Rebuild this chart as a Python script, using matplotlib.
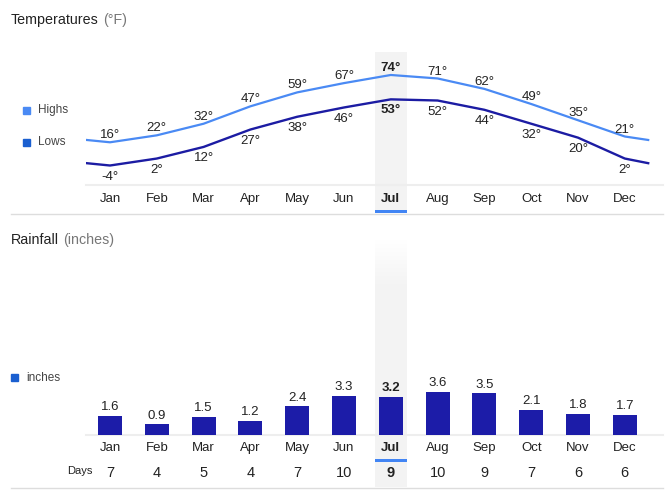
import matplotlib
matplotlib.use("Agg")
import matplotlib.pyplot as plt
from matplotlib.patches import Rectangle
from matplotlib.lines import Line2D
from matplotlib.transforms import blended_transform_factory

plt.rcParams['font.family'] = ['Liberation Sans', 'DejaVu Sans']

months = ["Jan", "Feb", "Mar", "Apr", "May", "Jun",
          "Jul", "Aug", "Sep", "Oct", "Nov", "Dec"]
highs = [16, 22, 32, 47, 59, 67, 74, 71, 62, 49, 35, 21]
lows = [-4, 2, 12, 27, 38, 46, 53, 52, 44, 32, 20, 2]
# line ends drawn past Jan / Dec
highs_edge = [18, 18]
lows_edge = [-2, -2]
rain = [1.6, 0.9, 1.5, 1.2, 2.4, 3.3, 3.2, 3.6, 3.5, 2.1, 1.8, 1.7]
days = [7, 4, 5, 4, 7, 10, 9, 10, 9, 7, 6, 6]
current = 6  # Jul

W, H = 672, 495
fig = plt.figure(figsize=(W / 100, H / 100), dpi=100)

def fx(px):
    return px / W

def fy(py):
    return 1 - py / H

TXT = "#222222"
GRAY = "#777777"
HIGH_C = "#4a8af4"
LOW_C = "#1c1ca3"
BAR_C = "#1c1ca8"
SEL_C = "#4285f4"
HL_C = "#f3f3f3"

step = 46.8
x0 = 110
left_px, right_px = 86, 663
xlim = (-(x0 - left_px) / step, (right_px - x0) / step)
hw = 0.342  # half width of the highlighted column

# ---------- temperatures ----------
ax1 = fig.add_axes([fx(left_px), fy(185), fx(right_px) - fx(left_px), fy(52) - fy(185)])
ax1.set_xlim(*xlim)
ax1.set_ylim(-20.8, 93.8)
ax1.patch.set_alpha(0)
blend1 = blended_transform_factory(ax1.transData, fig.transFigure)
ax1.add_patch(Rectangle((current - hw, fy(213)), 2 * hw, fy(52) - fy(213),
                        transform=blend1, color=HL_C, zorder=0, clip_on=False, lw=0))
ax1.add_patch(Rectangle((current - hw, fy(213)), 2 * hw, 3 / H,
                        transform=blend1, color=SEL_C, zorder=1, clip_on=False, lw=0))

xs = list(range(12))
ax1.plot([-0.5] + xs + [11.5], [highs_edge[0]] + highs + [highs_edge[1]],
         color=HIGH_C, lw=1.6, solid_joinstyle='round', zorder=3)
ax1.plot([-0.5] + xs + [11.5], [lows_edge[0]] + lows + [lows_edge[1]],
         color=LOW_C, lw=1.7, solid_joinstyle='round', zorder=3)
for i in xs:
    w = 'bold' if i == current else 'normal'
    ax1.annotate(f"{highs[i]}°", (i, highs[i]), xytext=(0, 5), textcoords='offset points',
                 ha='center', va='center', fontsize=9.5, color=TXT, fontweight=w)
    ax1.annotate(f"{lows[i]}°", (i, lows[i]), xytext=(0, -8), textcoords='offset points',
                 ha='center', va='center', fontsize=9.5, color=TXT, fontweight=w)

ax1.set_xticks(xs)
ax1.set_xticklabels(months, fontsize=9.5, color=TXT)
ax1.get_xticklabels()[current].set_fontweight('bold')
ax1.tick_params(axis='x', length=0, pad=5.5)
ax1.set_yticks([])
for s in ['top', 'left', 'right']:
    ax1.spines[s].set_visible(False)
ax1.spines['bottom'].set_color('#eeeeee')
ax1.spines['bottom'].set_linewidth(1.5)

t1 = fig.text(fx(11), fy(20), "Temperatures", fontsize=10.3, color=TXT, va='center')
ax1.annotate("(°F)", xy=(1, 0), xycoords=t1, xytext=(3, 0), textcoords='offset points',
             fontsize=10.3, color=GRAY, va='bottom', ha='left', annotation_clip=False)

fig.patches.append(Rectangle((fx(23), fy(114)), 7 / W, 7 / H, transform=fig.transFigure, color=HIGH_C))
fig.text(fx(38), fy(110), "Highs", fontsize=8.5, color="#444444", va='center')
fig.patches.append(Rectangle((fx(23), fy(146)), 7 / W, 7 / H, transform=fig.transFigure, color="#1a5fd0"))
fig.text(fx(38), fy(142), "Lows", fontsize=8.5, color="#444444", va='center')

fig.lines.append(Line2D([fx(11), fx(663)], [fy(213.5), fy(213.5)], transform=fig.transFigure,
                        color='#dddddd', lw=1))

# ---------- rainfall ----------
ax2 = fig.add_axes([fx(left_px), fy(435), fx(right_px) - fx(left_px), fy(250) - fy(435)])
ax2.set_xlim(*xlim)
ax2.set_ylim(0, 15.55)
ax2.patch.set_alpha(0)
blend2 = blended_transform_factory(ax2.transData, fig.transFigure)
# highlight column with a soft top
ax2.add_patch(Rectangle((current - hw, fy(487)), 2 * hw, fy(290) - fy(487),
                        transform=blend2, color=HL_C, zorder=0, clip_on=False, lw=0))
n = 25
for k in range(n):
    top = 240 + k * 2
    ax2.add_patch(Rectangle((current - hw, fy(top + 2)), 2 * hw, 2 / H,
                            transform=blend2, color=HL_C, alpha=(k + 1) / n,
                            zorder=0, lw=0, clip_on=False))
ax2.add_patch(Rectangle((current - hw, fy(462)), 2 * hw, 3 / H,
                        transform=blend2, color=SEL_C, zorder=1, clip_on=False, lw=0))

ax2.bar(xs, rain, width=0.51, color=BAR_C, zorder=3)
for i in xs:
    w = 'bold' if i == current else 'normal'
    ax2.annotate(f"{rain[i]}", (i, rain[i]), xytext=(0, 6.3), textcoords='offset points',
                 ha='center', va='center', fontsize=9.5, color=TXT, fontweight=w)
ax2.set_xticks(xs)
ax2.set_xticklabels(months, fontsize=9.5, color=TXT)
ax2.get_xticklabels()[current].set_fontweight('bold')
ax2.tick_params(axis='x', length=0, pad=5)
ax2.set_yticks([])
for s in ['top', 'left', 'right']:
    ax2.spines[s].set_visible(False)
ax2.spines['bottom'].set_color('#eeeeee')
ax2.spines['bottom'].set_linewidth(1.5)

for i in xs:
    w = 'bold' if i == current else 'normal'
    fig.text(i, fy(473), str(days[i]), transform=blend2, ha='center', va='center',
             fontsize=10.5, color=TXT, fontweight=w)
fig.text(fx(92), fy(471), "Days", fontsize=8, color=TXT, ha='right', va='center')

t2 = fig.text(fx(11), fy(240), "Rainfall", fontsize=10.3, color=TXT, va='center')
ax2.annotate("(inches)", xy=(1, 0), xycoords=t2, xytext=(3, 0), textcoords='offset points',
             fontsize=10.3, color=GRAY, va='bottom', ha='left', annotation_clip=False)
fig.patches.append(Rectangle((fx(11), fy(381)), 7 / W, 7 / H, transform=fig.transFigure, color="#1a5fd0"))
fig.text(fx(26), fy(378), "inches", fontsize=8.5, color="#444444", va='center')

fig.lines.append(Line2D([fx(11), fx(663)], [fy(487.5), fy(487.5)], transform=fig.transFigure,
                        color='#dddddd', lw=1))

fig.savefig("out.png", dpi=100)
